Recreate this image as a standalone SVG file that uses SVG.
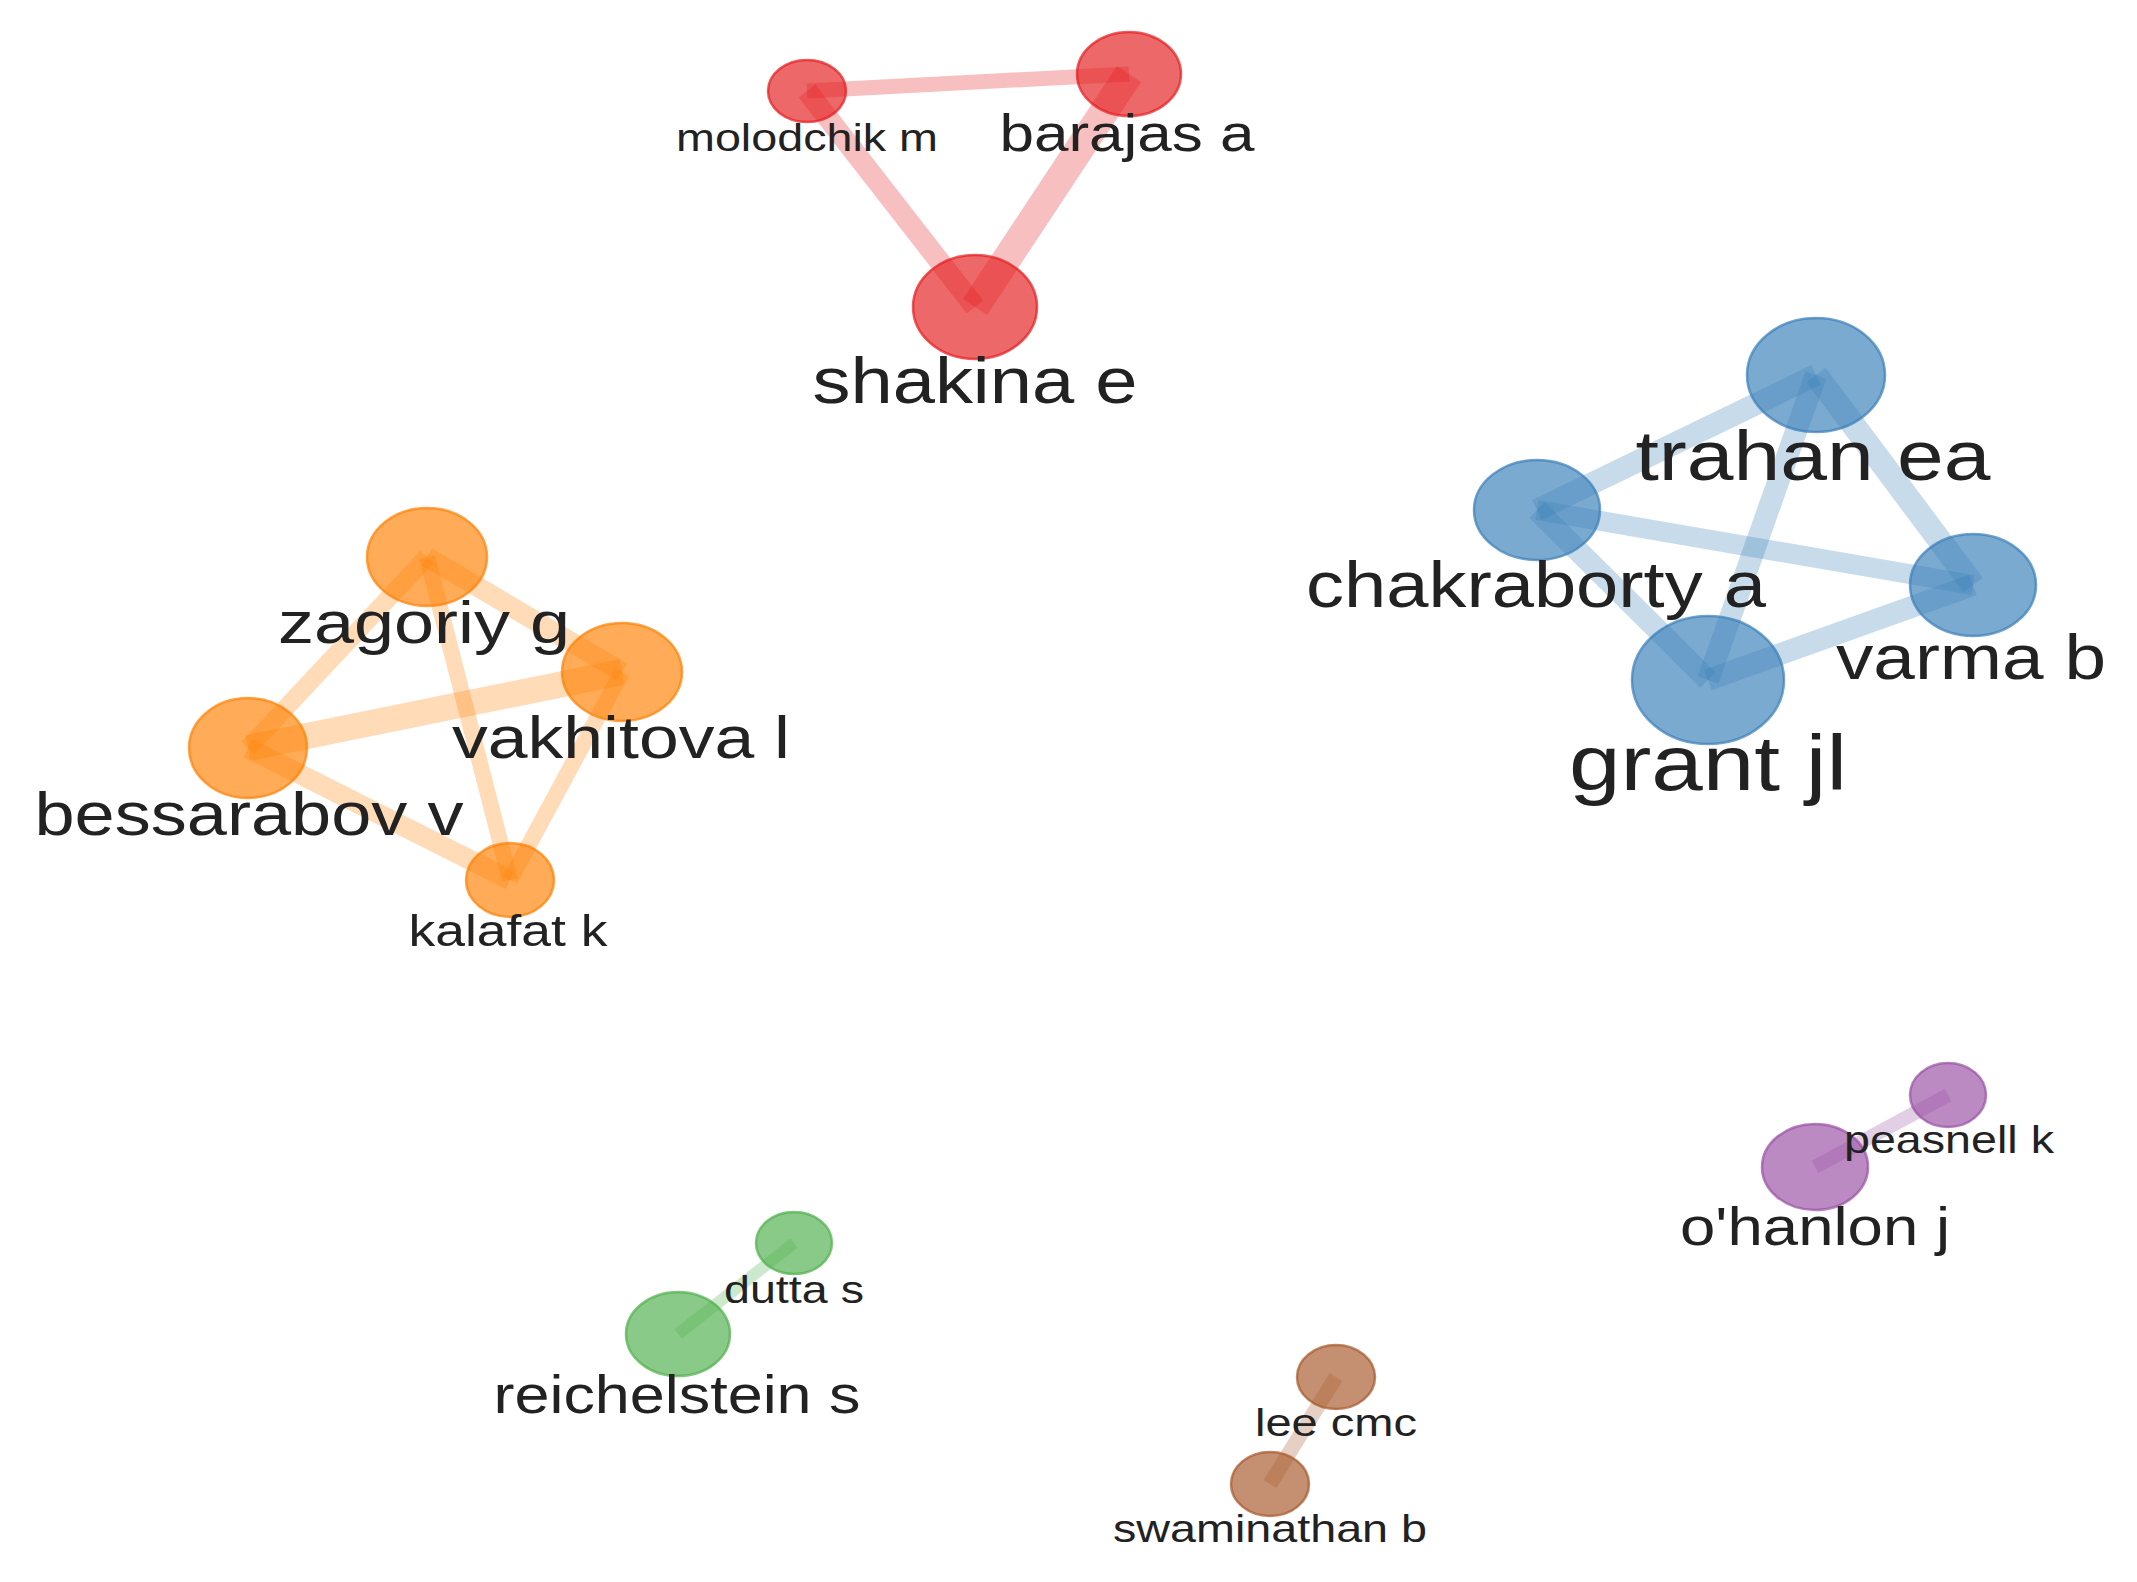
<svg xmlns="http://www.w3.org/2000/svg" width="2137" height="1582" viewBox="0 0 2137 1582">
<style>
.e{fill:none;stroke-linecap:butt;stroke-opacity:0.28}
.n{fill-opacity:0.66;stroke-opacity:0.7;stroke-width:2.5}
.r{fill:#e41a1c;stroke:#e41a1c}
.b{fill:#377eb8;stroke:#377eb8}
.o{fill:#ff7f00;stroke:#ff7f00}
.g{fill:#4daf4a;stroke:#4daf4a}
.w{fill:#a65628;stroke:#a65628}
.p{fill:#984ea3;stroke:#984ea3}
.er{stroke:#e41a1c}.eb{stroke:#377eb8}.eo{stroke:#ff7f00}.eg{stroke:#4daf4a}.ew{stroke:#a65628}.ep{stroke:#984ea3}
text{font-family:"Liberation Sans",Arial,sans-serif;fill:#222;text-anchor:middle}
</style>
<rect width="2137" height="1582" fill="#ffffff"/>
<g id="edges">
  <line class="e er" x1="807" y1="91" x2="1129" y2="74" stroke-width="15"/>
  <line class="e er" x1="807" y1="91" x2="975" y2="307" stroke-width="21"/>
  <line class="e er" x1="1129" y1="74" x2="975" y2="307" stroke-width="29"/>
  <line class="e eb" x1="1816" y1="375" x2="1537" y2="510" stroke-width="22"/>
  <line class="e eb" x1="1816" y1="375" x2="1973" y2="585" stroke-width="24"/>
  <line class="e eb" x1="1816" y1="375" x2="1708" y2="680" stroke-width="22"/>
  <line class="e eb" x1="1537" y1="510" x2="1973" y2="585" stroke-width="20"/>
  <line class="e eb" x1="1537" y1="510" x2="1708" y2="680" stroke-width="22"/>
  <line class="e eb" x1="1708" y1="680" x2="1973" y2="585" stroke-width="22"/>
  <line class="e eo" x1="427" y1="557" x2="248" y2="748" stroke-width="18"/>
  <line class="e eo" x1="427" y1="557" x2="622" y2="672" stroke-width="20"/>
  <line class="e eo" x1="427" y1="557" x2="510" y2="880" stroke-width="16"/>
  <line class="e eo" x1="248" y1="748" x2="622" y2="672" stroke-width="26"/>
  <line class="e eo" x1="248" y1="748" x2="510" y2="880" stroke-width="20"/>
  <line class="e eo" x1="622" y1="672" x2="510" y2="880" stroke-width="16"/>
  <line class="e eg" x1="794" y1="1243" x2="678" y2="1334" stroke-width="12"/>
  <line class="e ew" x1="1336" y1="1377" x2="1270" y2="1484" stroke-width="15"/>
  <line class="e ep" x1="1948" y1="1095" x2="1815" y2="1167" stroke-width="14"/>
</g>
<g id="node-molodchik-m"><ellipse class="n r" cx="807" cy="91" rx="39" ry="31"/><text x="807" y="151" font-size="39" textLength="262" lengthAdjust="spacingAndGlyphs">molodchik m</text></g>
<g id="node-barajas-a"><ellipse class="n r" cx="1129" cy="74" rx="52" ry="42"/><text x="1127" y="151" font-size="52" textLength="255" lengthAdjust="spacingAndGlyphs">barajas a</text></g>
<g id="node-shakina-e"><ellipse class="n r" cx="975" cy="307" rx="62" ry="52"/><text x="975" y="403" font-size="64" textLength="325" lengthAdjust="spacingAndGlyphs">shakina e</text></g>
<g id="node-grant-jl"><ellipse class="n b" cx="1708" cy="680" rx="76" ry="64"/><text x="1708" y="790" font-size="78" textLength="278" lengthAdjust="spacingAndGlyphs">grant jl</text></g>
<g id="node-trahan-ea"><ellipse class="n b" cx="1816" cy="375" rx="69" ry="57"/><text x="1813" y="480" font-size="71" textLength="355" lengthAdjust="spacingAndGlyphs">trahan ea</text></g>
<g id="node-chakraborty-a"><ellipse class="n b" cx="1537" cy="510" rx="63" ry="50"/><text x="1536" y="607" font-size="64" textLength="460" lengthAdjust="spacingAndGlyphs">chakraborty a</text></g>
<g id="node-varma-b"><ellipse class="n b" cx="1973" cy="585" rx="63" ry="51"/><text x="1971" y="679" font-size="63" textLength="270" lengthAdjust="spacingAndGlyphs">varma b</text></g>
<g id="node-vakhitova-l"><ellipse class="n o" cx="622" cy="672" rx="60" ry="49"/><text x="621" y="758" font-size="60" textLength="338" lengthAdjust="spacingAndGlyphs">vakhitova l</text></g>
<g id="node-zagoriy-g"><ellipse class="n o" cx="427" cy="557" rx="60" ry="49"/><text x="424" y="643" font-size="60" textLength="292" lengthAdjust="spacingAndGlyphs">zagoriy g</text></g>
<g id="node-bessarabov-v"><ellipse class="n o" cx="248" cy="748" rx="59" ry="50"/><text x="249" y="835" font-size="61" textLength="429" lengthAdjust="spacingAndGlyphs">bessarabov v</text></g>
<g id="node-kalafat-k"><ellipse class="n o" cx="510" cy="880" rx="44" ry="37"/><text x="508" y="946" font-size="45" textLength="199" lengthAdjust="spacingAndGlyphs">kalafat k</text></g>
<g id="node-reichelstein-s"><ellipse class="n g" cx="678" cy="1334" rx="52" ry="42"/><text x="677" y="1413" font-size="53" textLength="367" lengthAdjust="spacingAndGlyphs">reichelstein s</text></g>
<g id="node-dutta-s"><ellipse class="n g" cx="794" cy="1243" rx="38" ry="31"/><text x="794" y="1303" font-size="39" textLength="140" lengthAdjust="spacingAndGlyphs">dutta s</text></g>
<g id="node-lee-cmc"><ellipse class="n w" cx="1336" cy="1377" rx="39" ry="32"/><text x="1336" y="1436" font-size="39" textLength="162" lengthAdjust="spacingAndGlyphs">lee cmc</text></g>
<g id="node-swaminathan-b"><ellipse class="n w" cx="1270" cy="1484" rx="39" ry="32"/><text x="1270" y="1542" font-size="39" textLength="314" lengthAdjust="spacingAndGlyphs">swaminathan b</text></g>
<g id="node-ohanlon-j"><ellipse class="n p" cx="1815" cy="1167" rx="53" ry="43"/><text x="1815" y="1245" font-size="53" textLength="270" lengthAdjust="spacingAndGlyphs">o'hanlon j</text></g>
<g id="node-peasnell-k"><ellipse class="n p" cx="1948" cy="1095" rx="38" ry="32"/><text x="1949" y="1153" font-size="39" textLength="210" lengthAdjust="spacingAndGlyphs">peasnell k</text></g>
</svg>
